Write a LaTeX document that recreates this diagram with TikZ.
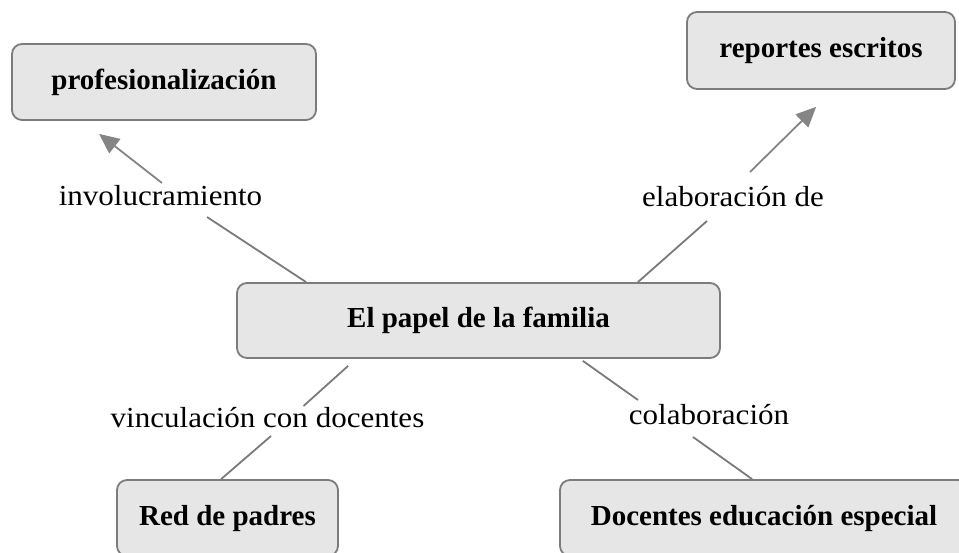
\documentclass[tikz,border=0pt]{standalone}
\usepackage{fontspec}
\setmainfont{Liberation Serif}
\newfontfamily\lblfont{Liberation Serif}[FakeStretch=1.07]
\usetikzlibrary{arrows.meta}
\definecolor{boxfill}{HTML}{E6E6E6}
\definecolor{boxline}{HTML}{7C7C7C}
\definecolor{linkgray}{HTML}{7A7A7A}
\definecolor{arrowgray}{HTML}{858585}
\tikzset{
  concept/.style={draw=boxline, fill=boxfill, line width=1.8pt, rounded corners=10pt,
    inner sep=0pt, font=\fontsize{29}{32}\selectfont\bfseries,
    text height=20pt, text depth=6pt},
  linklabel/.style={inner sep=0pt, anchor=base, font=\fontsize{29}{32}\selectfont\lblfont},
  conn/.style={draw=linkgray, line width=1.8pt},
  arrowconn/.style={draw=arrowgray, line width=1.8pt, -{Triangle[length=20pt,width=18pt]}}
}
\begin{document}
\begin{tikzpicture}[x=1pt,y=-1pt]
\useasboundingbox (0,0) rectangle (959,552);
% concepts
\node[concept, minimum width=304pt, minimum height=76pt] (prof) at (164,82) {profesionalización};
\node[concept, minimum width=268pt, minimum height=77pt] (rep) at (821,50.5) {reportes escritos};
\node[concept, minimum width=483pt, minimum height=75pt] (fam) at (478.5,320.5) {El papel de la familia};
\node[concept, minimum width=221pt, minimum height=76pt] (red) at (227.5,518) {Red de padres};
\node[concept, minimum width=408pt, minimum height=76pt] (doc) at (764,518) {Docentes educación especial};
% linking phrases
\node[linklabel] (inv) at (160.5,205) {involucramiento};
\node[linklabel] (elab) at (733,206) {elaboración de};
\node[linklabel] (vinc) at (267.5,427) {vinculación con docentes};
\node[linklabel] (colab) at (709,424) {colaboración};
% connectors
\draw[conn] ([shift={(70,0)}]fam.north west) -- ([shift={(46.5,12)}]inv.base);
\draw[arrowconn] ([shift={(1.5,-22)}]inv.base) -- ([shift={(88,13)}]prof.south west);
\draw[conn] ([shift={(-83,0)}]fam.north east) -- ([shift={(-26,15)}]elab.base);
\draw[arrowconn] ([shift={(17,-34)}]elab.base) -- ([shift={(130,17)}]rep.south west);
\draw[conn] ([shift={(112,7)}]fam.south west) -- ([shift={(36,-21)}]vinc.base);
\draw[conn] ([shift={(3.5,9)}]vinc.base) -- ([shift={(105,0)}]red.north west);
\draw[conn] ([shift={(-138,2)}]fam.south east) -- ([shift={(-71,-24)}]colab.base);
\draw[conn] ([shift={(-16,13)}]colab.base) -- ([shift={(193,0)}]doc.north west);
\end{tikzpicture}
\end{document}
